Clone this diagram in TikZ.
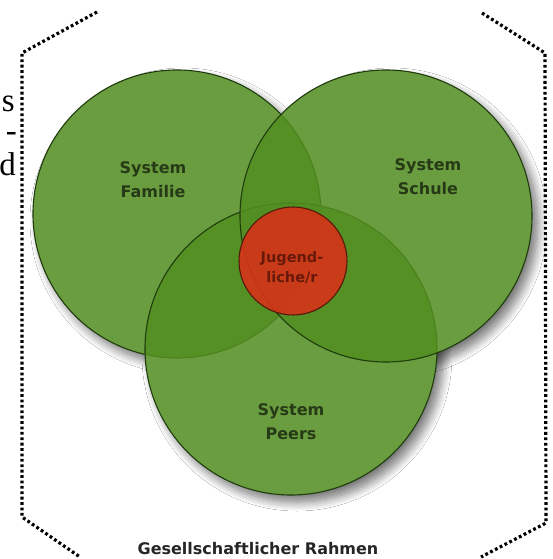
\documentclass[tikz,border=0pt]{standalone}
\usepackage{fontspec}
\setmainfont{Liberation Serif}
\newfontfamily\lblfont{DejaVu Sans}
\usetikzlibrary{shadows.blur}
\definecolor{grfill}{RGB}{82,142,33}
\definecolor{grline}{RGB}{30,60,12}
\definecolor{grtext}{RGB}{38,58,22}
\definecolor{rdfill}{RGB}{214,50,24}
\definecolor{rdline}{RGB}{85,25,10}
\definecolor{rdtext}{RGB}{105,25,10}
\tikzset{
  sys/.style={circle, inner sep=0pt, draw=grline, line width=1.1pt, fill=grfill, fill opacity=0.86, draw opacity=1},
  youth/.style={circle, inner sep=0pt, draw=rdline, line width=1.1pt, fill=rdfill, fill opacity=0.9, draw opacity=1},
  lbl/.style={font=\lblfont\bfseries\fontsize{16}{24}\selectfont, text=grtext, align=center, inner sep=0pt},
  ylbl/.style={font=\lblfont\bfseries\fontsize{14.5}{20}\selectfont, text=rdtext, align=center, inner sep=0pt},
  frame/.style={line width=3.2pt, dash pattern=on 2.8pt off 2.6pt, black},
  shad/.style={blur shadow={shadow xshift=6pt, shadow yshift=-7pt, shadow blur radius=9pt, shadow blur steps=12, shadow opacity=55}},
  scan/.style={font=\fontsize{33}{33}\selectfont, inner sep=0pt, anchor=base east}
}
\begin{document}
\begin{tikzpicture}[x=1pt,y=-1pt]
\useasboundingbox[fill=white] (0,0) rectangle (552,559);
% scan remnants at left edge
\node[scan] (s1) at (15,112) {s};
\node[scan] (s2) at (17,142) {-};
\node[scan] (s3) at (16,175) {d};
% frame
\coordinate (l1) at (97,12);
\coordinate (l2) at (22,53);
\coordinate (l3) at (22,517);
\coordinate (l4) at (80,557);
\coordinate (r1) at (482,13);
\coordinate (r2) at (545,53);
\coordinate (r3) at (546,523);
\coordinate (r4) at (481,557);
\draw[frame] (l1) -- (l2) -- (l3) -- (l4);
\draw[frame] (r1) -- (r2) -- (r3) -- (r4);
% shadows and white bases
\path[shad] (177,214) circle[radius=144];
\path[shad] (386,216) circle[radius=146];
\path[shad] (291,349) circle[radius=146];
\fill[white] (177,214) circle[radius=144];
\fill[white] (386,216) circle[radius=146];
\fill[white] (291,349) circle[radius=146];
% circles
\node[sys, minimum size=288pt] (fam) at (177,214) {};
\node[sys, minimum size=292pt] (peer) at (291,349) {};
\node[sys, minimum size=292pt] (schule) at (386,216) {};
\node[youth, minimum size=108pt] (jug) at (293,261) {};
% labels
\node[lbl] (famt) at (153,180) {System\\Familie};
\node[lbl] (schult) at (428,177) {System\\Schule};
\node[lbl] (peert) at (291,422) {System\\Peers};
\node[ylbl] (jugt) at (292,268) {Jugend-\\liche/r};
\node[lbl, text=black!85] (rahmen) at (258,549) {Gesellschaftlicher Rahmen};
\end{tikzpicture}
\end{document}
